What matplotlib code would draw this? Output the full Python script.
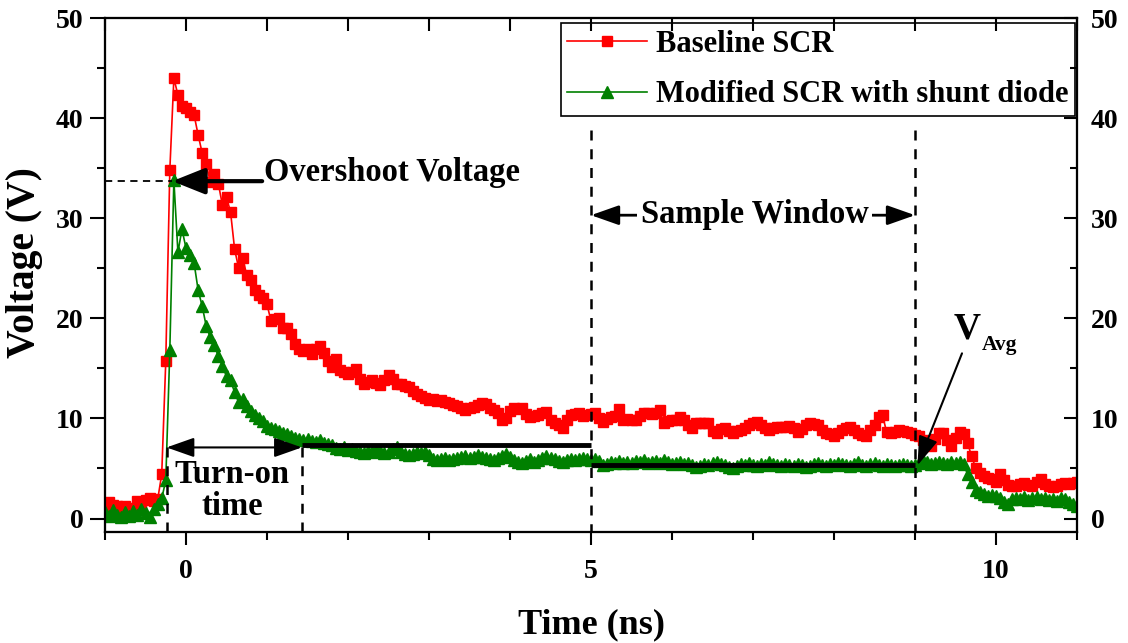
import numpy as np
import matplotlib
matplotlib.use("Agg")
import matplotlib.pyplot as plt
from matplotlib.ticker import MultipleLocator

plt.rcParams["font.family"] = ["Liberation Serif", "DejaVu Serif"]
plt.rcParams["font.weight"] = "bold"

# sampling grid of the scope traces (ns)
t_start = -1.0
t_step = 0.05

# Baseline SCR trace (V), one value per sample
baseline_v = [
    1.0, 1.6, 1.3, 1.2, 0.9, 1.2, 1.0, 0.9, 1.7, 1.5,
    1.8, 2.0, 1.7, 1.9, 4.4, 15.7, 34.8, 44.0, 42.3, 41.2,
    41.0, 40.6, 40.3, 38.3, 36.5, 35.4, 33.6, 34.4, 33.4, 31.3,
    32.1, 30.6, 26.9, 25.0, 26.0, 24.3, 23.8, 22.8, 22.3, 22.0,
    21.4, 19.7, 19.9, 20.0, 19.0, 19.0, 18.4, 17.4, 16.9, 16.7,
    16.9, 16.4, 16.9, 17.2, 16.5, 15.7, 15.1, 15.9, 14.8, 14.6,
    14.4, 14.6, 14.9, 13.9, 13.4, 13.6, 13.8, 13.5, 13.3, 13.8,
    14.3, 13.9, 13.4, 13.4, 13.2, 13.1, 12.7, 12.4, 12.2, 12.0,
    11.8, 11.9, 11.7, 11.8, 11.6, 11.5, 11.3, 11.2, 11.0, 10.8,
    11.0, 11.1, 11.3, 11.5, 11.4, 11.0, 10.8, 10.5, 9.8, 10.0,
    10.7, 11.0, 10.9, 11.0, 10.4, 10.1, 10.2, 10.3, 10.5, 10.6,
    9.8, 9.5, 9.3, 9.0, 9.8, 10.3, 10.4, 10.5, 10.2, 10.3,
    10.4, 10.5, 10.0, 9.6, 9.9, 10.1, 10.2, 10.9, 9.8, 9.9,
    9.8, 9.8, 10.2, 10.5, 10.5, 10.4, 10.5, 10.8, 9.5, 9.7,
    9.8, 9.8, 10.1, 9.8, 9.3, 9.0, 9.5, 9.5, 9.5, 9.5,
    8.7, 8.5, 8.9, 9.0, 8.7, 8.5, 8.7, 8.8, 9.0, 9.3,
    9.5, 9.6, 9.3, 9.0, 8.8, 9.0, 9.1, 9.1, 9.1, 9.2,
    9.0, 8.6, 8.9, 9.3, 9.5, 9.4, 9.3, 8.8, 8.5, 8.4,
    8.2, 8.5, 8.8, 9.0, 9.1, 8.8, 8.5, 8.3, 8.2, 8.8,
    9.3, 10.1, 10.3, 8.6, 8.5, 8.6, 8.8, 8.7, 8.6, 8.5,
    8.3, 8.2, 7.8, 7.5, 7.2, 7.9, 8.5, 8.5, 7.8, 7.2,
    8.0, 8.6, 8.4, 7.5, 6.2, 5.0, 4.5, 4.2, 4.0, 3.9,
    3.6, 4.4, 3.8, 3.3, 3.2, 3.2, 3.4, 3.5, 3.3, 3.2,
    3.6, 3.9, 3.4, 3.2, 3.1, 3.2, 3.4, 3.5, 3.4, 3.5,
    3.6,
]

# Modified SCR with shunt diode trace (V)
modified_v = [
    0.6, 0.3, 0.8, 0.4, 0.2, 0.6, 0.3, 0.7, 0.4, 0.9,
    0.5, 0.2, 0.9, 1.4, 2.0, 3.8, 16.8, 33.8, 26.6, 28.9,
    27.0, 26.3, 25.5, 22.8, 21.2, 19.2, 18.1, 17.3, 16.2, 15.2,
    14.2, 13.8, 12.6, 11.6, 11.9, 11.2, 10.7, 10.3, 10.0, 9.7,
    9.2, 9.0, 8.9, 8.7, 8.5, 8.4, 8.2, 8.0, 7.9, 7.8,
    7.9, 7.7, 7.6, 7.8, 7.5, 7.4, 7.3, 7.0, 6.9, 7.1,
    6.8, 6.9, 6.7, 6.6, 6.5, 6.7, 6.6, 6.8, 6.7, 6.5,
    6.6, 6.9, 7.1, 6.6, 6.4, 6.3, 6.4, 6.6, 6.5, 6.6,
    6.3, 5.9, 5.8, 5.9, 6.0, 5.8, 5.9, 6.0, 6.1, 6.2,
    6.0, 6.1, 6.3, 6.1, 6.0, 5.9, 5.8, 6.0, 6.2, 6.4,
    6.1, 5.8, 5.6, 5.5, 5.7, 5.9, 5.6, 5.8, 6.0, 6.2,
    6.0, 5.9, 5.7, 5.6, 5.8, 5.9, 5.8, 5.9, 6.0, 5.9,
    5.8, 5.9, 5.7, 5.3, 5.4, 5.6, 5.5, 5.7, 5.5, 5.6,
    5.5, 5.7, 5.6, 5.8, 5.5, 5.6, 5.7, 5.5, 5.8, 5.6,
    5.4, 5.5, 5.6, 5.4, 5.5, 5.3, 5.1, 5.2, 5.4, 5.3,
    5.5, 5.6, 5.4, 5.3, 5.1, 5.0, 5.2, 5.4, 5.3, 5.5,
    5.3, 5.2, 5.4, 5.3, 5.6, 5.4, 5.3, 5.2, 5.4, 5.3,
    5.2, 5.4, 5.3, 5.1, 5.2, 5.4, 5.5, 5.3, 5.2, 5.4,
    5.3, 5.5, 5.4, 5.3, 5.2, 5.4, 5.6, 5.3, 5.2, 5.4,
    5.5, 5.3, 5.2, 5.4, 5.3, 5.2, 5.3, 5.4, 5.3, 5.2,
    5.3, 5.5, 5.8, 5.6, 5.4, 5.5, 5.6, 5.5, 5.4, 5.6,
    5.5, 5.6, 5.4, 4.4, 3.6, 2.8, 2.6, 2.4, 2.2, 2.3,
    2.2, 2.0, 1.6, 1.4, 1.9, 2.0, 1.9, 2.1, 1.8, 2.0,
    2.1, 1.9, 2.0, 1.8, 1.9, 1.7, 2.0, 1.9, 1.6, 1.4,
    1.2,
]

series_labels = ["Baseline SCR", "Modified SCR with shunt diode"]

# annotation values
overshoot_v = 33.7
overshoot_t = -0.17
turn_on_start = -0.24
turn_on_end = 1.43
turn_on_level = 7.1
avg_before_window = 7.3
window_start = 5.0
window_end = 9.0
avg_in_window = 5.3

time_ns = t_start + t_step * np.arange(len(baseline_v))

fig = plt.figure(figsize=(11.28, 6.43), dpi=100)
ax = fig.add_axes([0.0931, 0.1726, 0.8617, 0.7994])

ax.plot(time_ns, baseline_v, color="#ff0000", lw=1.2, marker="s", ms=6.5,
        mec="#ff0000", label=series_labels[0], zorder=3)
ax.plot(time_ns, modified_v, color="#008000", lw=1.2, marker="^", ms=8,
        mec="#008000", label=series_labels[1], zorder=4)

ax.set_xlim(-1, 11)
ax.set_ylim(-1.35, 50)

ax.xaxis.set_major_locator(MultipleLocator(5))
ax.xaxis.set_minor_locator(MultipleLocator(1))
ax.yaxis.set_major_locator(MultipleLocator(10))
ax.yaxis.set_minor_locator(MultipleLocator(5))
ax.tick_params(axis="both", which="both", direction="out", width=1.5,
               labelsize=20, top=False, right=False)
ax.tick_params(axis="y", which="major", length=10.5, pad=5)
ax.tick_params(axis="y", which="minor", length=5.5)
ax.tick_params(axis="x", which="major", length=9.5, pad=10)
ax.tick_params(axis="x", which="minor", length=5.5)
for sp in ax.spines.values():
    sp.set_linewidth(1.5)

# right axis: same scale, inward ticks
ax_r = ax.twinx()
ax_r.set_ylim(ax.get_ylim())
ax_r.yaxis.set_major_locator(MultipleLocator(10))
ax_r.yaxis.set_minor_locator(MultipleLocator(5))
ax_r.tick_params(axis="y", which="both", direction="in", width=1.5,
                 labelsize=20, pad=10)
ax_r.tick_params(axis="y", which="major", length=9.5)
ax_r.tick_params(axis="y", which="minor", length=5)

# top axis: inward ticks, no labels
ax_t = ax.twiny()
ax_t.set_xlim(ax.get_xlim())
ax_t.xaxis.set_major_locator(MultipleLocator(5))
ax_t.xaxis.set_minor_locator(MultipleLocator(1))
ax_t.tick_params(axis="x", which="both", direction="in", width=1.5,
                 length=9.5, labeltop=False)
for a in (ax_r, ax_t):
    for sp in a.spines.values():
        sp.set_linewidth(1.5)

ax.set_xlabel("Time (ns)", fontsize=26, fontweight="bold")
ax.xaxis.set_label_coords(0.5, -0.148)
ax.set_ylabel("Voltage (V)", fontsize=28.5, fontweight="bold")
ax.yaxis.set_label_coords(-0.064, 0.525)

dash = (0, (4, 3.5))

# overshoot
ax.plot([-1, overshoot_t], [overshoot_v, overshoot_v], color="k", lw=1.3,
        ls=(0, (4, 3)), zorder=5)
ax.annotate("", xy=(overshoot_t, overshoot_v), xytext=(0.94, overshoot_v),
            arrowprops=dict(arrowstyle="-|>,head_length=1.0,head_width=0.4",
                            color="k", lw=3, shrinkA=0, shrinkB=0,
                            mutation_scale=20), zorder=6)
ax.text(0.96, overshoot_v, "Overshoot Voltage", fontsize=23.5,
        fontweight="bold", ha="left", va="baseline", zorder=6)

# turn-on time
for tx in (turn_on_start, turn_on_end):
    ax.plot([tx, tx], [turn_on_level, -1.35], color="k", lw=1.8, ls=dash,
            zorder=5)
ax.annotate("", xy=(turn_on_start, turn_on_level), xytext=(turn_on_end, turn_on_level),
            arrowprops=dict(arrowstyle="<|-|>,head_length=0.85,head_width=0.3",
                            color="k", lw=1.5, shrinkA=0, shrinkB=0,
                            mutation_scale=20), zorder=6)
ax.text(0.57, 3.5, "Turn-on", fontsize=23.5, fontweight="bold",
        ha="center", va="baseline", zorder=6)
ax.text(0.57, 0.33, "time", fontsize=23.5, fontweight="bold",
        ha="center", va="baseline", zorder=6)

# average lines
ax.plot([turn_on_end, window_start], [avg_before_window, avg_before_window],
        color="k", lw=3.5, solid_capstyle="butt", zorder=6)
ax.plot([window_start, window_end], [avg_in_window, avg_in_window],
        color="k", lw=3.5, solid_capstyle="butt", zorder=6)

# sample window
for tx in (window_start, window_end):
    ax.plot([tx, tx], [38.8, -1.35], color="k", lw=1.8, ls=dash, zorder=5)
ax.annotate("", xy=(window_start, 30.3), xytext=(window_end, 30.3),
            arrowprops=dict(arrowstyle="<|-|>,head_length=0.85,head_width=0.3",
                            color="k", lw=2, shrinkA=0, shrinkB=0,
                            mutation_scale=20), zorder=6)
ax.text(7.02, 30.4, "Sample Window", fontsize=23.5, fontweight="bold",
        ha="center", va="center", zorder=7,
        bbox=dict(boxstyle="square,pad=0.12", fc="white", ec="none"))

# V_avg
ax.annotate("", xy=(9.03, avg_in_window), xytext=(9.58, 16.5),
            arrowprops=dict(arrowstyle="-|>,head_length=0.9,head_width=0.3",
                            color="k", lw=1.5, shrinkA=0, shrinkB=0,
                            mutation_scale=20), zorder=6)
ax.text(9.48, 18.0, "V", fontsize=27, fontweight="bold", ha="left",
        va="baseline", zorder=6)
ax.text(9.82, 16.8, "Avg", fontsize=15.5, fontweight="bold", ha="left",
        va="baseline", zorder=6)

leg = ax.legend(loc="upper right", bbox_to_anchor=(0.998, 0.99),
                borderaxespad=0, fontsize=22, handlelength=2.6,
                handletextpad=0.3, borderpad=0.22, labelspacing=0.7,
                fancybox=False, framealpha=1, edgecolor="k")
leg.get_frame().set_linewidth(1.2)
leg.set_zorder(10)

fig.savefig("out.png", dpi=100)
